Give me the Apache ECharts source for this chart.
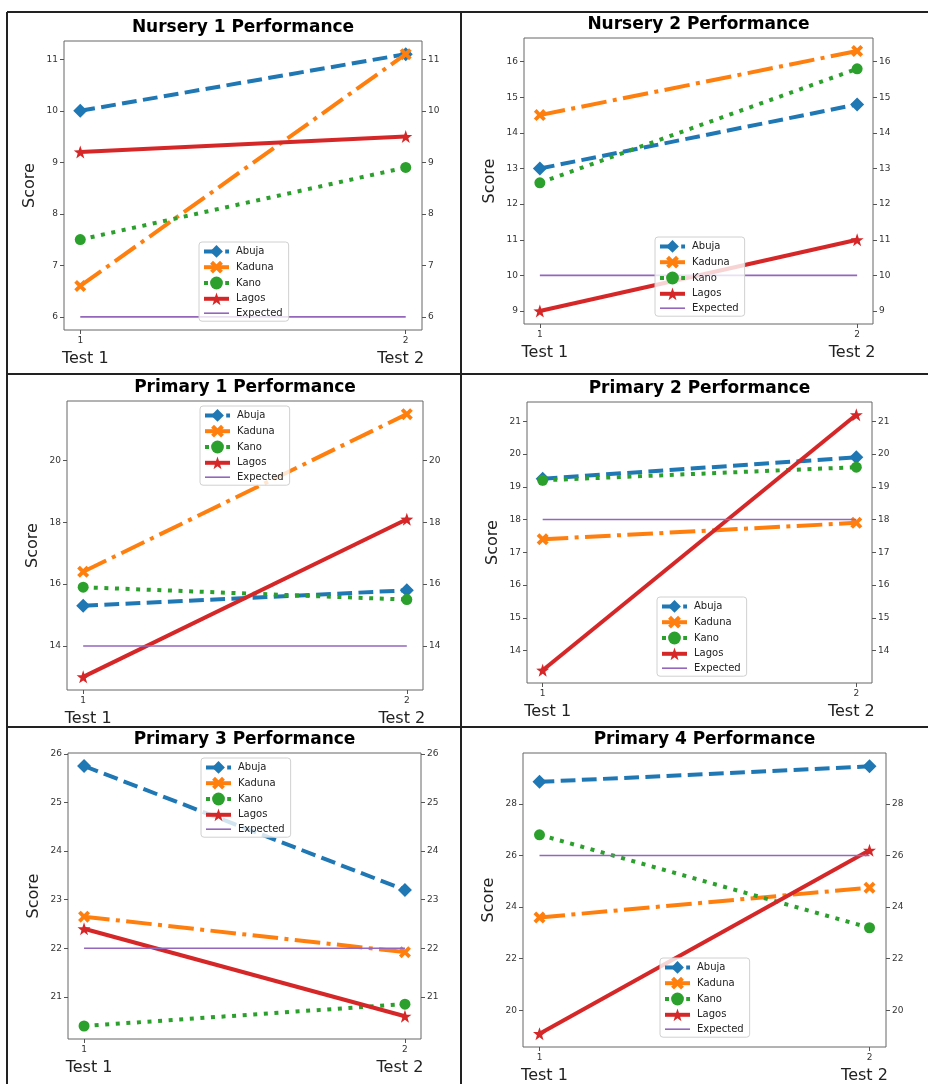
<!DOCTYPE html>
<html><head><meta charset="utf-8">
<script src="https://cdn.jsdelivr.net/npm/echarts@6/dist/echarts.min.js"></script>
<style>html,body{margin:0;padding:0;background:#fff}#c{width:928px;height:1084px}</style>
</head><body><div id="c"></div>
<script>
// ---- data ----
const tests = [1, 2];
const testLabels = ['Test 1', 'Test 2'];
const seriesNames = ['Abuja', 'Kaduna', 'Kano', 'Lagos', 'Expected'];
const panelTitles = ['Nursery 1 Performance', 'Nursery 2 Performance', 'Primary 1 Performance',
                     'Primary 2 Performance', 'Primary 3 Performance', 'Primary 4 Performance'];
const abujaScores    = [[10, 11.1], [13, 14.8], [15.3, 15.8], [19.25, 19.9], [25.75, 23.2], [28.85, 29.45]];
const kadunaScores   = [[6.6, 11.1], [14.5, 16.3], [16.4, 21.5], [17.4, 17.9], [22.65, 21.92], [23.6, 24.75]];
const kanoScores     = [[7.5, 8.9], [12.6, 15.8], [15.9, 15.5], [19.2, 19.6], [20.4, 20.85], [26.8, 23.2]];
const lagosScores    = [[9.2, 9.5], [9, 11], [13, 18.1], [13.4, 21.2], [22.4, 20.6], [19.1, 26.2]];
const expectedScores = [[6, 6], [10, 10], [14, 14], [18, 18], [22, 22], [26, 26]];
const yTicks = [
  [6, 7, 8, 9, 10, 11],
  [9, 10, 11, 12, 13, 14, 15, 16],
  [14, 16, 18, 20],
  [13, 14, 15, 16, 17, 18, 19, 20, 21],
  [21, 22, 23, 24, 25, 26],
  [20, 22, 24, 26, 28]
];

// ---- layout & style ----
const FONT = 'DejaVu Sans';
const colors = ['#1f77b4', '#ff7f0e', '#2ca02c', '#d62728', '#9467bd'];
const starPath = 'path://M0,-10 L2.35,-3.24 L9.51,-3.09 L3.8,1.24 L5.88,8.09 L0,4 L-5.88,8.09 L-3.8,1.24 L-9.51,-3.09 L-2.35,-3.24 Z';
const xPath = 'path://M0,-4.5 L5.5,-10 L10,-5.5 L4.5,0 L10,5.5 L5.5,10 L0,4.5 L-5.5,10 L-10,5.5 L-4.5,0 L-10,-5.5 L-5.5,-10 Z';
const linePath = 'path://M0,0 L25,0 L25,1.6 L0,1.6 Z';
const styles = [
  {symbol: 'diamond', size: 14, width: 4, type: [14.8, 6.4]},
  {symbol: xPath, size: 12, width: 4, type: [25.6, 6.4, 4, 6.4]},
  {symbol: 'circle', size: 11, width: 4, type: [4, 6.6]},
  {symbol: starPath, size: 13, width: 4, type: 'solid'},
  {symbol: 'none', size: 0, width: 1.6, type: 'solid'}
];
const grids = [
  {left: 64, top: 41, width: 358, height: 289},
  {left: 524, top: 38, width: 349, height: 286},
  {left: 67, top: 401, width: 356, height: 289},
  {left: 527, top: 402, width: 345, height: 281},
  {left: 68, top: 753, width: 353, height: 286},
  {left: 523, top: 753, width: 363, height: 295}
];
const legendPos = [[199, 242], [655, 237], [200, 406], [657, 597], [201, 758], [660, 958]];

const allSeriesData = [abujaScores, kadunaScores, kanoScores, lagosScores, expectedScores];

const option = {
  animation: false,
  backgroundColor: '#fff',
  grid: [], xAxis: [], yAxis: [], series: [], legend: [], graphic: []
};

grids.forEach((g, i) => {
  option.grid.push(Object.assign({show: true, borderColor: '#666', borderWidth: 1, backgroundColor: 'transparent', containLabel: false}, g));
  const vals = allSeriesData.flatMap(s => s[i]);
  const lo = Math.min(...vals), hi = Math.max(...vals), pad = (hi - lo) * 0.05;
  const yBase = {
    gridIndex: i, type: 'value', min: lo - pad, max: hi + pad,
    axisLine: {show: false}, splitLine: {show: false},
    axisTick: {show: true, length: 4, customValues: yTicks[i], lineStyle: {color: '#555'}},
    axisLabel: {customValues: yTicks[i], fontSize: 9, color: '#333', margin: 6, fontFamily: FONT}
  };
  option.yAxis.push(Object.assign({}, yBase, {
    position: 'left', name: 'Score', nameLocation: 'middle', nameGap: 26,
    nameTextStyle: {fontSize: 16, color: '#222', fontFamily: FONT}
  }));
  option.yAxis.push(Object.assign({}, yBase, {position: 'right'}));
  option.xAxis.push({
    gridIndex: i, type: 'value', min: 0.95, max: 2.05, position: 'bottom',
    axisLine: {show: false}, splitLine: {show: false},
    axisTick: {show: true, length: 4, customValues: tests, lineStyle: {color: '#555'}},
    axisLabel: {customValues: tests, fontSize: 9, color: '#333', margin: 6, fontFamily: FONT}
  });
  option.xAxis.push({
    gridIndex: i, type: 'value', min: 0.95, max: 2.05, position: 'bottom',
    axisLine: {show: false}, splitLine: {show: false}, axisTick: {show: false},
    axisLabel: {
      customValues: tests, margin: 21,
      formatter: v => (v === tests[0] ? '{a|' + testLabels[0] + '}' : '{b|' + testLabels[1] + '}'),
      rich: {
        a: {fontSize: 16, color: '#222', fontFamily: FONT, padding: [0, 0, 0, 10]},
        b: {fontSize: 16, color: '#222', fontFamily: FONT, padding: [0, 10, 0, 0]}
      }
    }
  });
  seriesNames.forEach((name, k) => {
    const st = styles[k];
    option.series.push({
      type: 'line', name: name, xAxisIndex: 2 * i, yAxisIndex: 2 * i,
      data: tests.map((t, j) => [t, allSeriesData[k][i][j]]),
      symbol: st.symbol, symbolSize: st.size, showSymbol: st.symbol !== 'none',
      lineStyle: {color: colors[k], width: st.width, type: st.type, cap: 'butt'},
      itemStyle: {color: colors[k], borderColor: colors[k], borderWidth: 0},
      z: 2 + k * 0.1,
      emphasis: {disabled: true}, silent: true
    });
  });
  option.legend.push({
    data: seriesNames.map((n, k) => k === 4
      ? {name: n, icon: linePath}
      : {name: n, lineStyle: {width: 4}}),
    orient: 'vertical', left: legendPos[i][0], top: legendPos[i][1],
    itemWidth: 25, itemHeight: 16, itemGap: 3, padding: [3, 6, 3, 3],
    backgroundColor: 'rgba(255,255,255,0.8)', borderColor: '#d0d0d0', borderWidth: 1, borderRadius: 3,
    textStyle: {fontSize: 10, color: '#222', fontFamily: FONT, padding: [0, 0, 0, 2]}, selectedMode: false
  });
  option.graphic.push({
    type: 'text', x: g.left + g.width / 2, y: g.top - 13,
    style: {text: panelTitles[i], textAlign: 'center', textVerticalAlign: 'middle',
            font: 'bold 17px "DejaVu Sans"', fill: '#000'}
  });
});

// panel frame lines
const frame = [[7, 12, 928, 12], [7, 12, 7, 1084], [461, 12, 461, 1084], [7, 374, 928, 374], [7, 727, 928, 727]];
frame.forEach(f => option.graphic.push({
  type: 'line', shape: {x1: f[0], y1: f[1], x2: f[2], y2: f[3]},
  style: {stroke: '#222', lineWidth: 2}, silent: true
}));

const chart = echarts.init(document.getElementById('c'), null, {renderer: 'canvas'});
chart.setOption(option);
</script>
</body></html>
